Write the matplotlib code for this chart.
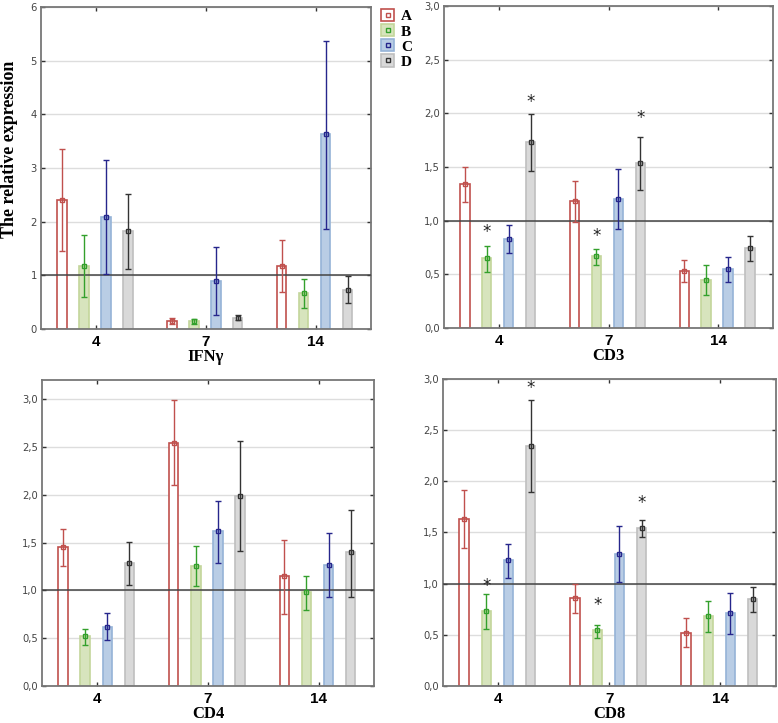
import matplotlib
matplotlib.use("Agg")
import matplotlib.pyplot as plt
from matplotlib import font_manager
from matplotlib.patches import Patch
from matplotlib.lines import Line2D
import numpy as np

days = ["4", "7", "14"]
groups = ["A", "B", "C", "D"]

# mean, lower and upper whisker per group (rows) and day (columns)
ifng_mean = [[2.40, 0.15, 1.18], [1.17, 0.14, 0.67], [2.09, 0.90, 3.63], [1.82, 0.21, 0.73]]
ifng_lo = [[1.46, 0.10, 0.68], [0.59, 0.09, 0.39], [1.03, 0.26, 1.87], [1.12, 0.17, 0.48]]
ifng_hi = [[3.35, 0.21, 1.66], [1.75, 0.19, 0.93], [3.14, 1.52, 5.37], [2.51, 0.26, 0.99]]

cd3_mean = [[1.34, 1.18, 0.53], [0.65, 0.67, 0.45], [0.83, 1.20, 0.55], [1.73, 1.54, 0.75]]
cd3_lo = [[1.17, 0.99, 0.43], [0.52, 0.59, 0.31], [0.70, 0.92, 0.43], [1.46, 1.29, 0.62]]
cd3_hi = [[1.50, 1.37, 0.63], [0.76, 0.74, 0.59], [0.96, 1.48, 0.66], [1.99, 1.78, 0.86]]
cd3_stars = [(1, 0, 0.89), (3, 0, 2.11), (1, 1, 0.86), (3, 1, 1.96)]

cd4_mean = [[1.45, 2.54, 1.15], [0.52, 1.26, 0.98], [0.62, 1.62, 1.27], [1.29, 1.99, 1.40]]
cd4_lo = [[1.25, 2.10, 0.75], [0.43, 1.05, 0.79], [0.48, 1.29, 0.93], [1.06, 1.41, 0.93]]
cd4_hi = [[1.64, 2.99, 1.53], [0.60, 1.46, 1.15], [0.76, 1.93, 1.60], [1.51, 2.56, 1.84]]

cd8_mean = [[1.63, 0.86, 0.52], [0.73, 0.55, 0.68], [1.23, 1.29, 0.71], [2.35, 1.54, 0.85]]
cd8_lo = [[1.35, 0.71, 0.38], [0.56, 0.47, 0.53], [1.06, 1.02, 0.51], [1.90, 1.46, 0.72]]
cd8_hi = [[1.92, 1.00, 0.66], [0.90, 0.60, 0.83], [1.39, 1.56, 0.91], [2.79, 1.62, 0.97]]
cd8_stars = [(1, 0, 0.98), (3, 0, 2.91), (1, 1, 0.79), (3, 1, 1.79)]

face = ["white", "#d7e4bd", "#b9cde5", "#d9d9d9"]
edge = ["#c0504d", "#c3d69b", "#95b3d7", "#bfbfbf"]
errc = ["#c0504d", "#33a02c", "#26268c", "#333333"]

names = [f.name for f in font_manager.fontManager.ttflist]
tickfont = "Liberation Sans Narrow" if "Liberation Sans Narrow" in names else "DejaVu Sans"
serif = "Liberation Serif"

fig = plt.figure(figsize=(7.78, 7.23), dpi=100)
boxes = [
    [0.0527, 0.545, 0.424, 0.4454],
    [0.5707, 0.5463, 0.4229, 0.4454],
    [0.054, 0.0512, 0.4267, 0.4232],
    [0.5694, 0.0512, 0.428, 0.4246],
]
panels = [
    ("IFN\u03b3", ifng_mean, ifng_lo, ifng_hi, [], 6.0, np.arange(0, 7, 1), False),
    ("CD3", cd3_mean, cd3_lo, cd3_hi, cd3_stars, 3.0, np.arange(0, 3.01, 0.5), True),
    ("CD4", cd4_mean, cd4_lo, cd4_hi, [], 3.2, np.arange(0, 3.01, 0.5), True),
    ("CD8", cd8_mean, cd8_lo, cd8_hi, cd8_stars, 3.0, np.arange(0, 3.01, 0.5), True),
]
offsets = [-0.31, -0.11, 0.09, 0.29]
x = np.arange(len(days))

for box, (title, mean, lo, hi, stars, ytop, yt, comma) in zip(boxes, panels):
    ax = fig.add_axes(box)
    for g in range(4):
        m = np.array(mean[g])
        xs = x + offsets[g]
        ax.bar(xs, m, width=0.085, color=face[g], edgecolor=edge[g], linewidth=1.2, zorder=2)
        yerr = [m - np.array(lo[g]), np.array(hi[g]) - m]
        ax.errorbar(xs, m, yerr=yerr, fmt="s", ms=3.5, mfc="none", mec=errc[g], mew=1,
                    ecolor=errc[g], elinewidth=1, capsize=2.5, capthick=1, zorder=4)
    for g, d, ys in stars:
        ax.text(d + offsets[g], ys, "*", ha="center", va="center", fontsize=12,
                color="#222222", zorder=5)
    ax.axhline(1, color="#444444", lw=1.1, zorder=3)
    ax.set_xlim(-0.5, 2.5)
    ax.set_ylim(0, ytop)
    ax.set_yticks(yt)
    if comma:
        ax.set_yticklabels([("%.1f" % v).replace(".", ",") for v in yt])
    else:
        ax.set_yticklabels(["%d" % v for v in yt])
    ax.yaxis.grid(True, color="#dddddd", lw=1, zorder=0)
    ax.set_axisbelow(True)
    ax.set_xticks(x)
    ax.set_xticklabels(days, fontsize=11, fontweight="bold", family="Liberation Sans")
    for lab in ax.get_yticklabels():
        lab.set_family(tickfont)
        lab.set_stretch("condensed")
        lab.set_fontsize(8)
        lab.set_color("#444444")
    ax.tick_params(axis="both", direction="in", length=3, width=1, color="#333333",
                   top=True, right=True, pad=3)
    ax.tick_params(axis="x", pad=4)
    for s in ax.spines.values():
        s.set_color("#777777")
        s.set_linewidth(1.3)
    ax.set_xlabel(title, family=serif, fontsize=12, fontweight="bold", labelpad=0)

fig.text(0.012, 0.793, "The relative expression", rotation=90, ha="center", va="center",
         family=serif, fontsize=13, fontweight="bold")

handles = []
for g in range(4):
    handles.append((Patch(facecolor=face[g], edgecolor=edge[g] if g else "#c0504d", lw=1.2),
                    Line2D([], [], marker="s", ms=3, mfc="none", mec=errc[g], ls="none")))
fig.legend(handles, groups, loc="upper left", bbox_to_anchor=(0.482, 0.996), frameon=False,
           handlelength=0.85, handleheight=0.85, handletextpad=0.45, labelspacing=0.05,
           prop={"family": serif, "weight": "bold", "size": 11}, borderaxespad=0)

fig.savefig("out.png", dpi=100)
